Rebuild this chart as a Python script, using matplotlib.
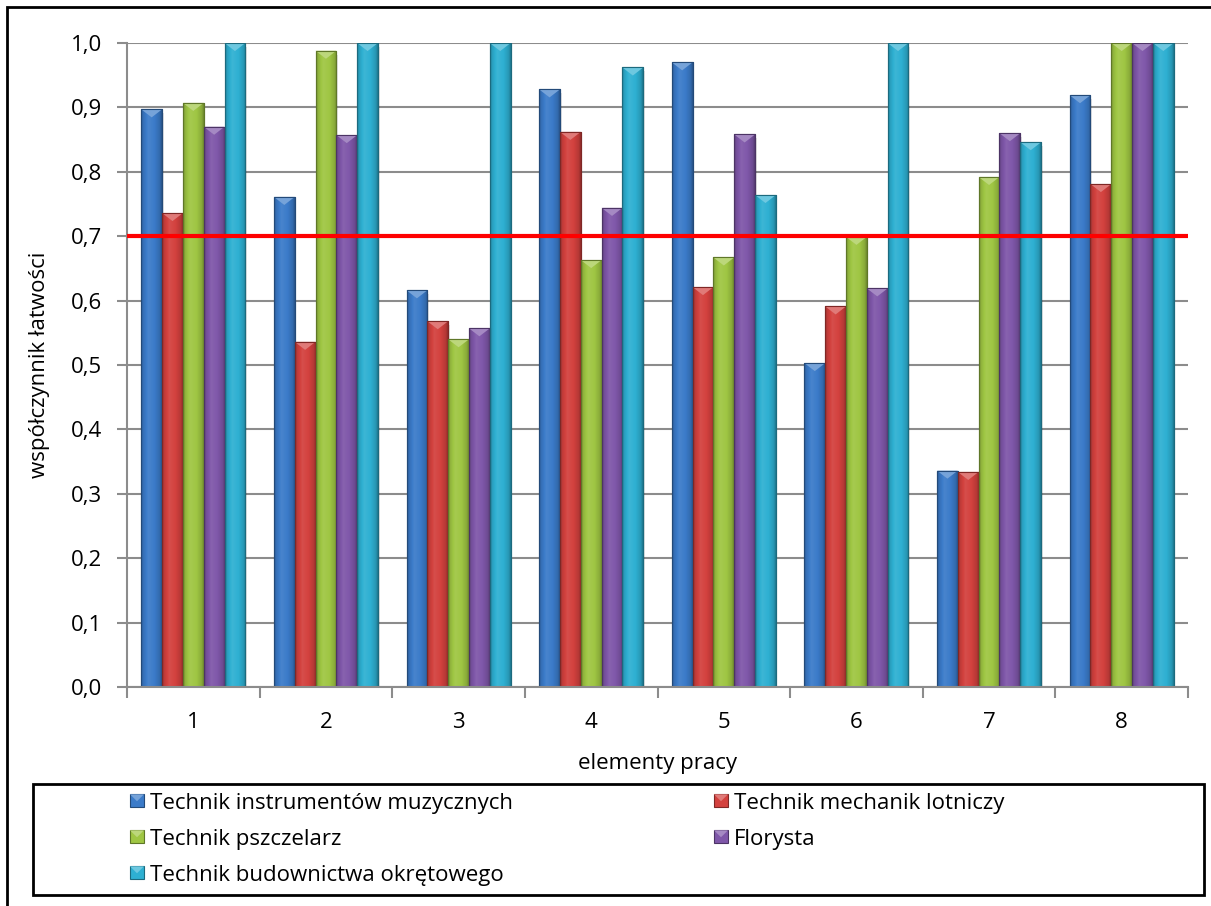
import numpy as np
import matplotlib
matplotlib.use('Agg')
import matplotlib.pyplot as plt
from matplotlib.patches import Rectangle, Polygon
from matplotlib.colors import to_rgb
from matplotlib.ticker import FuncFormatter, FixedLocator
from matplotlib.legend_handler import HandlerBase

# ---------------- data ----------------
categories = ['1', '2', '3', '4', '5', '6', '7', '8']
series_names = ['Technik instrumentów muzycznych', 'Technik mechanik lotniczy',
                'Technik pszczelarz', 'Florysta', 'Technik budownictwa okrętowego']
instrumentow = [0.897, 0.761, 0.616, 0.928, 0.970, 0.503, 0.336, 0.919]
mechanik = [0.736, 0.536, 0.568, 0.862, 0.621, 0.591, 0.334, 0.781]
pszczelarz = [0.907, 0.988, 0.540, 0.663, 0.667, 0.699, 0.792, 1.000]
florysta = [0.870, 0.857, 0.557, 0.744, 0.858, 0.619, 0.860, 1.000]
okretowy = [1.000, 1.000, 1.000, 0.962, 0.764, 1.000, 0.846, 1.000]
threshold = 0.7
y_ticks = [0.0, 0.1, 0.2, 0.3, 0.4, 0.5, 0.6, 0.7, 0.8, 0.9, 1.0]

series = [instrumentow, mechanik, pszczelarz, florysta, okretowy]
colors = ['#3B7BC9', '#D3413E', '#9FC643', '#7F57A9', '#2EB0D2']

plt.rcParams['font.family'] = ['Open Sans', 'DejaVu Sans']
FS = 16

W, H = 1211, 906
fig = plt.figure(figsize=(W / 100, H / 100), dpi=100)
fig.patch.set_facecolor('white')


def fx(px):
    return px / W


def fy(py):
    return 1 - py / H


ax_l, ax_r, ax_t, ax_b = 127, 1188, 43, 687
ax = fig.add_axes([fx(ax_l), fy(ax_b), (ax_r - ax_l) / W, (ax_b - ax_t) / H])


def shade(c, f):
    c = np.array(to_rgb(c))
    if f >= 1:
        return c + (1 - c) * (f - 1)
    return c * f


prof_x = [0.0, 0.10, 0.35, 0.65, 0.90, 1.0]
prof_f = [0.72, 0.90, 1.07, 1.0, 0.86, 0.68]


def grad_img(c):
    t = np.linspace(0, 1, 64)
    f = np.interp(t, prof_x, prof_f)
    return np.array([[shade(c, v) for v in f]])


x = np.arange(1, len(categories) + 1)
w = 0.157
handles = []
for k, (vals, col, name) in enumerate(zip(series, colors, series_names)):
    # soft shadow
    ax.bar(x + (k - 2) * w + 0.012, vals, width=w, bottom=-0.006, color='#000000',
           alpha=0.10, linewidth=0, zorder=2.5)
    bars = ax.bar(x + (k - 2) * w, vals, width=w, color=col,
                  edgecolor=shade(col, 0.6), linewidth=0.8, zorder=3, label=name)
    handles.append(bars)
    for rect in bars:
        x0 = rect.get_x()
        x1 = x0 + rect.get_width()
        h = rect.get_height()
        im = ax.imshow(grad_img(col), extent=(x0, x1, 0, h), aspect='auto',
                       zorder=3.1, interpolation='bilinear')
        im.set_clip_path(rect)
        d = 0.0125
        tri = Polygon([(x0, h), (x1, h), ((x0 + x1) / 2, h - d)], closed=True,
                      facecolor=shade(col, 1.3), edgecolor='none', zorder=3.2)
        ax.add_patch(tri)
        ax.add_patch(Rectangle((x0, 0), x1 - x0, h, fill=False,
                               edgecolor=shade(col, 0.6), linewidth=0.8, zorder=3.3))

ax.axhline(threshold, color='#FF0000', linewidth=3, zorder=5)

ax.set_xlim(0.5, len(categories) + 0.5)
ax.set_ylim(0, 1.0)
ax.set_axisbelow(True)
ax.yaxis.grid(True, color='#8C8C8C', linewidth=1.5, zorder=0)
for s in ['top', 'right']:
    ax.spines[s].set_visible(False)
for s in ['left', 'bottom']:
    ax.spines[s].set_color('#8C8C8C')
    ax.spines[s].set_linewidth(1.5)
    ax.spines[s].set_zorder(4)

ax.yaxis.set_major_locator(FixedLocator(y_ticks))
ax.yaxis.set_major_formatter(FuncFormatter(lambda v, p: f'{v:.1f}'.replace('.', ',')))
ax.tick_params(axis='y', direction='out', length=7, width=1.5, color='#8C8C8C',
               labelsize=FS, pad=11)
ax.set_xticks(x)
ax.set_xticklabels(categories)
ax.set_xticks(np.arange(0.5, len(categories) + 1, 1.0), minor=True)
ax.tick_params(axis='x', which='major', length=0, labelsize=FS, pad=18)
ax.tick_params(axis='x', which='minor', direction='out', length=8, width=1.5,
               color='#8C8C8C')

ax.set_xlabel('elementy pracy', fontsize=FS)
ax.xaxis.set_label_coords(0.5, (ax_b - 763) / (ax_b - ax_t))
ax.xaxis.label.set_va('center')
ax.set_ylabel('współczynnik łatwości', fontsize=FS)
ax.yaxis.set_label_coords((40 - ax_l) / (ax_r - ax_l), 0.5)
ax.yaxis.label.set_va('center')

# legend frame
fig.patches.append(Rectangle((fx(33), fy(895)), (1204 - 33) / W, (895 - 784) / H,
                             transform=fig.transFigure, fill=False,
                             edgecolor='black', linewidth=2, zorder=1))
# outer chart border
fig.patches.append(Rectangle((fx(7), -0.1), 1.2, fy(7) + 0.1,
                             transform=fig.transFigure, fill=False,
                             edgecolor='black', linewidth=2, zorder=1))


class BevelHandler(HandlerBase):
    def create_artists(self, legend, orig_handle, xdescent, ydescent,
                       width, height, fontsize, trans):
        col = orig_handle.patches[0].get_facecolor()[:3]
        x0, y0 = -xdescent, -ydescent
        body = Rectangle((x0, y0), width, height, facecolor=col,
                         edgecolor=shade(col, 0.6), linewidth=0.8, transform=trans)
        top = Polygon([(x0, y0 + height), (x0 + width, y0 + height),
                       (x0 + width / 2, y0 + height * 0.45)], closed=True,
                      facecolor=shade(col, 1.3), edgecolor='none', transform=trans)
        return [body, top]


fs_px = FS * 100 / 72
row_gap = 36
r = fig.canvas.get_renderer()
tmp = fig.text(0, 0, series_names[0], fontsize=FS)
h_row = tmp.get_window_extent(r).height
tmp.remove()
sp = (row_gap - h_row) / fs_px
top_px = 803 - h_row / 2
leg_kw = dict(frameon=False, fontsize=FS, handlelength=14 / fs_px,
              handleheight=11 / fs_px, handletextpad=6 / fs_px,
              borderpad=0, borderaxespad=0, loc='upper left', labelspacing=sp,
              handler_map={type(handles[0]): BevelHandler()})
leg1 = fig.legend([handles[0], handles[2], handles[4]],
                  [series_names[0], series_names[2], series_names[4]],
                  bbox_to_anchor=(fx(130), fy(top_px)), **leg_kw)
leg2 = fig.legend([handles[1], handles[3]],
                  [series_names[1], series_names[3]],
                  bbox_to_anchor=(fx(714), fy(top_px)), **leg_kw)

fig.savefig('out.png', dpi=100)
